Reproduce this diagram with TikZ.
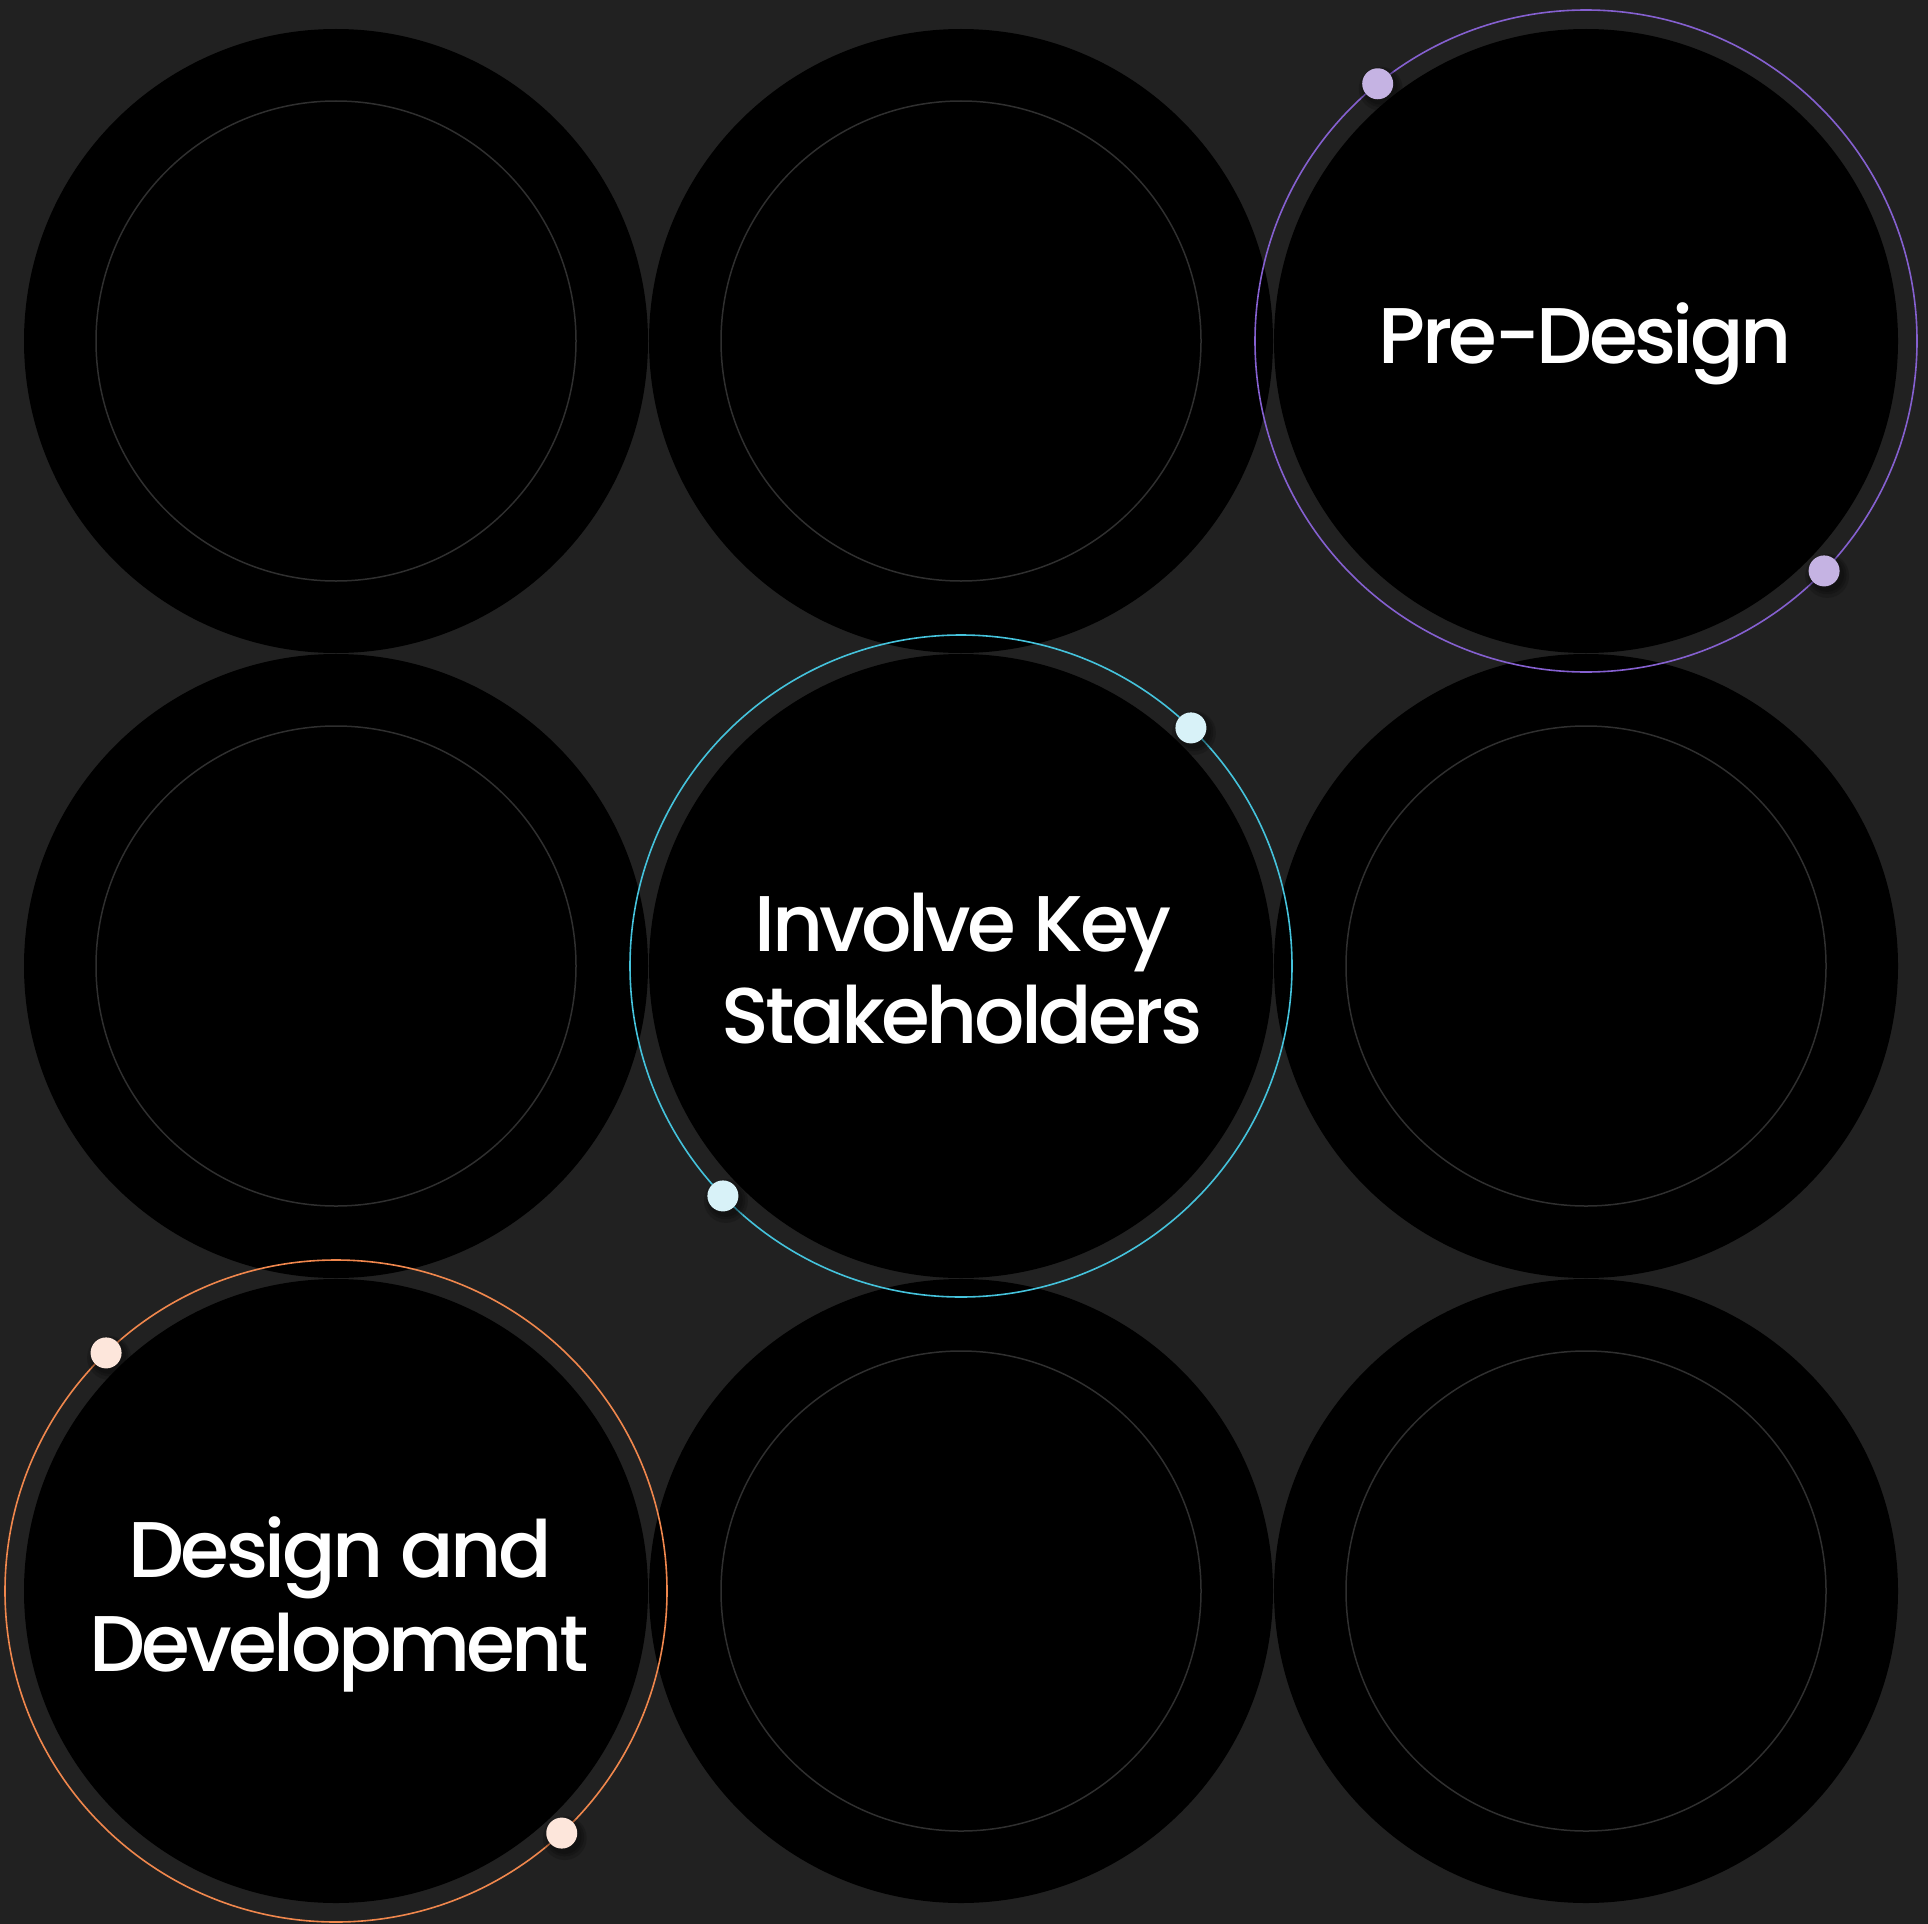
\documentclass[tikz,border=0pt]{standalone}
\usepackage{fontspec}
\setmainfont{Poppins}[UprightFont=* Medium, LetterSpace=-4.5]
\definecolor{bgcol}{HTML}{212121}
\definecolor{faintring}{HTML}{2F2F2F}
\definecolor{violetring}{HTML}{8560D0}
\definecolor{violetdot}{HTML}{C5B3E3}
\definecolor{cyanring}{HTML}{45C3DC}
\definecolor{cyandot}{HTML}{D8F2F8}
\definecolor{orangering}{HTML}{F0874D}
\definecolor{orangedot}{HTML}{FDE6DB}
\tikzset{
  disc/.style={circle, fill=black, minimum size=624pt, inner sep=0pt, outer sep=0pt},
  faint/.style={circle, draw=faintring, line width=1.5pt, minimum size=480pt, inner sep=0pt},
  halo/.style={circle, draw=#1, line width=1.6pt, minimum size=662pt, inner sep=0pt, outer sep=0pt},
  knob/.style={circle, fill=#1, minimum size=31pt, inner sep=0pt},
  knobshadow/.style={circle, fill=black, fill opacity=0.16, minimum size=#1, inner sep=0pt},
  caption/.style={text=white, anchor=base, inner sep=0pt, font=\fontsize{79}{92}\selectfont}
}
\newcommand{\knobat}[3]{%
  \node[knobshadow=34pt] at ([shift={(3,4)}]#1) {};
  \node[knobshadow=39pt] at ([shift={(3,4)}]#1) {};
  \node[knobshadow=44pt] at ([shift={(3,5)}]#1) {};
  \node[knob=#2] (#3) at (#1) {};
}
\begin{document}
\begin{tikzpicture}[x=1pt, y=-1pt]
  \useasboundingbox (0,0) rectangle (1928,1924);
  \fill[bgcol] (0,0) rectangle (1928,1924);

  % 3x3 grid of black discs
  \foreach \row/\y in {1/341, 2/966, 3/1591}
    \foreach \col/\x in {1/336, 2/961, 3/1586}
      \node[disc] (c\row\col) at (\x,\y) {};

  % faint inner rings on the plain discs
  \foreach \n in {11,12,21,23,32,33}
    \node[faint] (f\n) at (c\n.center) {};

  % highlighted discs: coloured orbit rings
  \node[halo=violetring] (r13) at (c13.center) {};
  \node[halo=cyanring]   (r22) at (c22.center) {};
  \node[halo=orangering] (r31) at (c31.center) {};

  % knobs sitting on the rings
  \knobat{r13.129.3}{violetdot}{k13a}
  \knobat{r13.-44.8}{violetdot}{k13b}
  \knobat{r22.46}{cyandot}{k22a}
  \knobat{r22.224.7}{cyandot}{k22b}
  \knobat{r31.134}{orangedot}{k31a}
  \knobat{r31.-47.3}{orangedot}{k31b}

  % captions
  \node[caption] (t13)  at (1585,363)  {Pre-Design};
  \node[caption] (t22a) at (963,951)   {Involve Key};
  \node[caption] (t22b) at (962,1043)  {Stakeholders};
  \node[caption] (t31a) at (340,1577)  {Design and};
  \node[caption] (t31b) at (339,1671)  {Development};
\end{tikzpicture}
\end{document}
